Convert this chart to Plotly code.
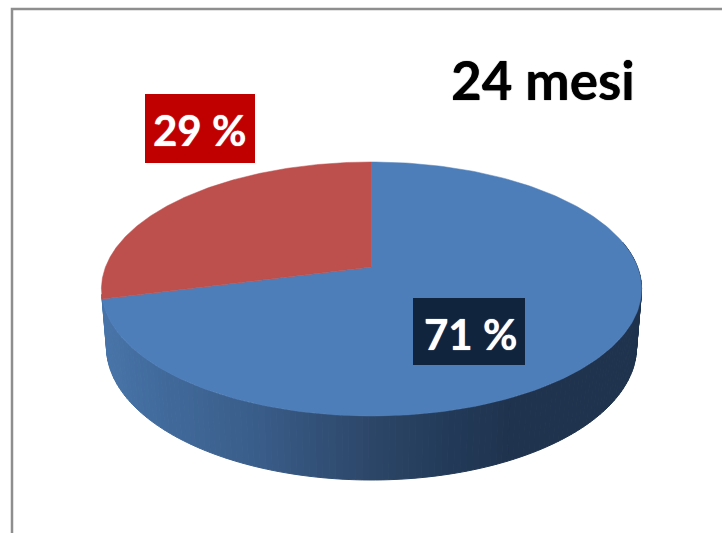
import numpy as np
import plotly.graph_objects as go

# Chart content
slice_labels = ["71 %", "29 %"]
slice_values = [71, 29]
slice_colors = ["#4e7eb9", "#bd4f4d"]
label_backgrounds = ["#10243e", "#c00000"]
chart_title = "24 mesi"

WIDTH, HEIGHT = 722, 533
CX = 371.5
PERSPECTIVE = 0.173
TOP_RIM = dict(a=266.0, b=123.2, y0=267.0)
BOTTOM_RIM = dict(a=261.0, b=129.0, y0=324.0)

# Side wall shading: pixel x -> (r, g, b)
WALL_X = [100, 150, 250, 372, 450, 510, 650]
WALL_R = [72, 66, 58, 44, 34, 31, 31]
WALL_G = [117, 108, 94, 70, 58, 51, 51]
WALL_B = [170, 158, 139, 104, 88, 78, 78]


def rim(theta_deg, a, b, y0):
    """Project a disc rim angle (clockwise from 12 o'clock) with perspective."""
    t = np.radians(theta_deg)
    u, v = np.sin(t), -np.cos(t)
    w = 1 - PERSPECTIVE * v
    return CX + a * u / w, y0 + b * v / w


fig = go.Figure()

fractions = np.cumsum([0] + slice_values) / sum(slice_values) * 360
blue_end = fractions[1]

# Side wall, built from thin vertical strips of the front rim
edges = np.linspace(78, blue_end + 2, 150)
for t0, t1 in zip(edges[:-1], edges[1:]):
    xa, ya = rim(np.array([t0, t1]), **TOP_RIM)
    xb, yb = rim(np.array([t1, t0]), **BOTTOM_RIM)
    mid = (xa.mean() + xb.mean()) / 2
    color = "rgb({:.0f},{:.0f},{:.0f})".format(
        np.interp(mid, WALL_X, WALL_R),
        np.interp(mid, WALL_X, WALL_G),
        np.interp(mid, WALL_X, WALL_B),
    )
    fig.add_trace(go.Scatter(
        x=np.r_[xa, xb, xa[0]], y=np.r_[ya, yb, ya[0]],
        mode="lines", fill="toself", fillcolor=color,
        line=dict(color=color, width=1),
        hoverinfo="skip", showlegend=False,
    ))

# Top face wedges
for start, end, color, name in zip(fractions[:-1], fractions[1:], slice_colors, slice_labels):
    theta = np.linspace(start, end, 240)
    xs, ys = rim(theta, **TOP_RIM)
    fig.add_trace(go.Scatter(
        x=np.r_[CX, xs, CX], y=np.r_[TOP_RIM["y0"], ys, TOP_RIM["y0"]],
        mode="lines", fill="toself", fillcolor=color,
        line=dict(color=color, width=0.5),
        name=name, hoverinfo="name", showlegend=False,
    ))

# Value labels on solid boxes
label_boxes = [dict(x0=413, x1=525, y0=298, y1=365), dict(x0=145, x1=255, y0=94, y1=163)]
label_anchors = [(470, 333.5), (199, 130)]
for text, bg, box, (ax, ay) in zip(slice_labels, label_backgrounds, label_boxes, label_anchors):
    fig.add_shape(type="rect", fillcolor=bg, line=dict(width=0), xref="x", yref="y", **box)
    fig.add_annotation(
        x=ax, y=ay, xref="x", yref="y", text=f"<b>{text}</b>", showarrow=False,
        font=dict(family="Lato", size=42, color="white",
                  shadow="0 0 1px white"),
    )

fig.add_annotation(
    x=543, y=79.5, xref="x", yref="y", text=f"<b>{chart_title}</b>", showarrow=False,
    font=dict(family="Lato", size=53, color="black", shadow="0 0 1px black"),
)

# Chart area border, running off the right and bottom of the page
fig.add_shape(
    type="rect", x0=12, y0=9, x1=WIDTH + 20, y1=HEIGHT + 20,
    line=dict(color="#8e8e8e", width=2.5), xref="x", yref="y",
)

fig.update_layout(
    width=WIDTH, height=HEIGHT, margin=dict(l=0, r=0, t=0, b=0),
    paper_bgcolor="white", plot_bgcolor="white",
    xaxis=dict(range=[0, WIDTH], visible=False, fixedrange=True),
    yaxis=dict(range=[HEIGHT, 0], visible=False, fixedrange=True),
)
fig.write_html("out.html", config=dict(displayModeBar=False))
